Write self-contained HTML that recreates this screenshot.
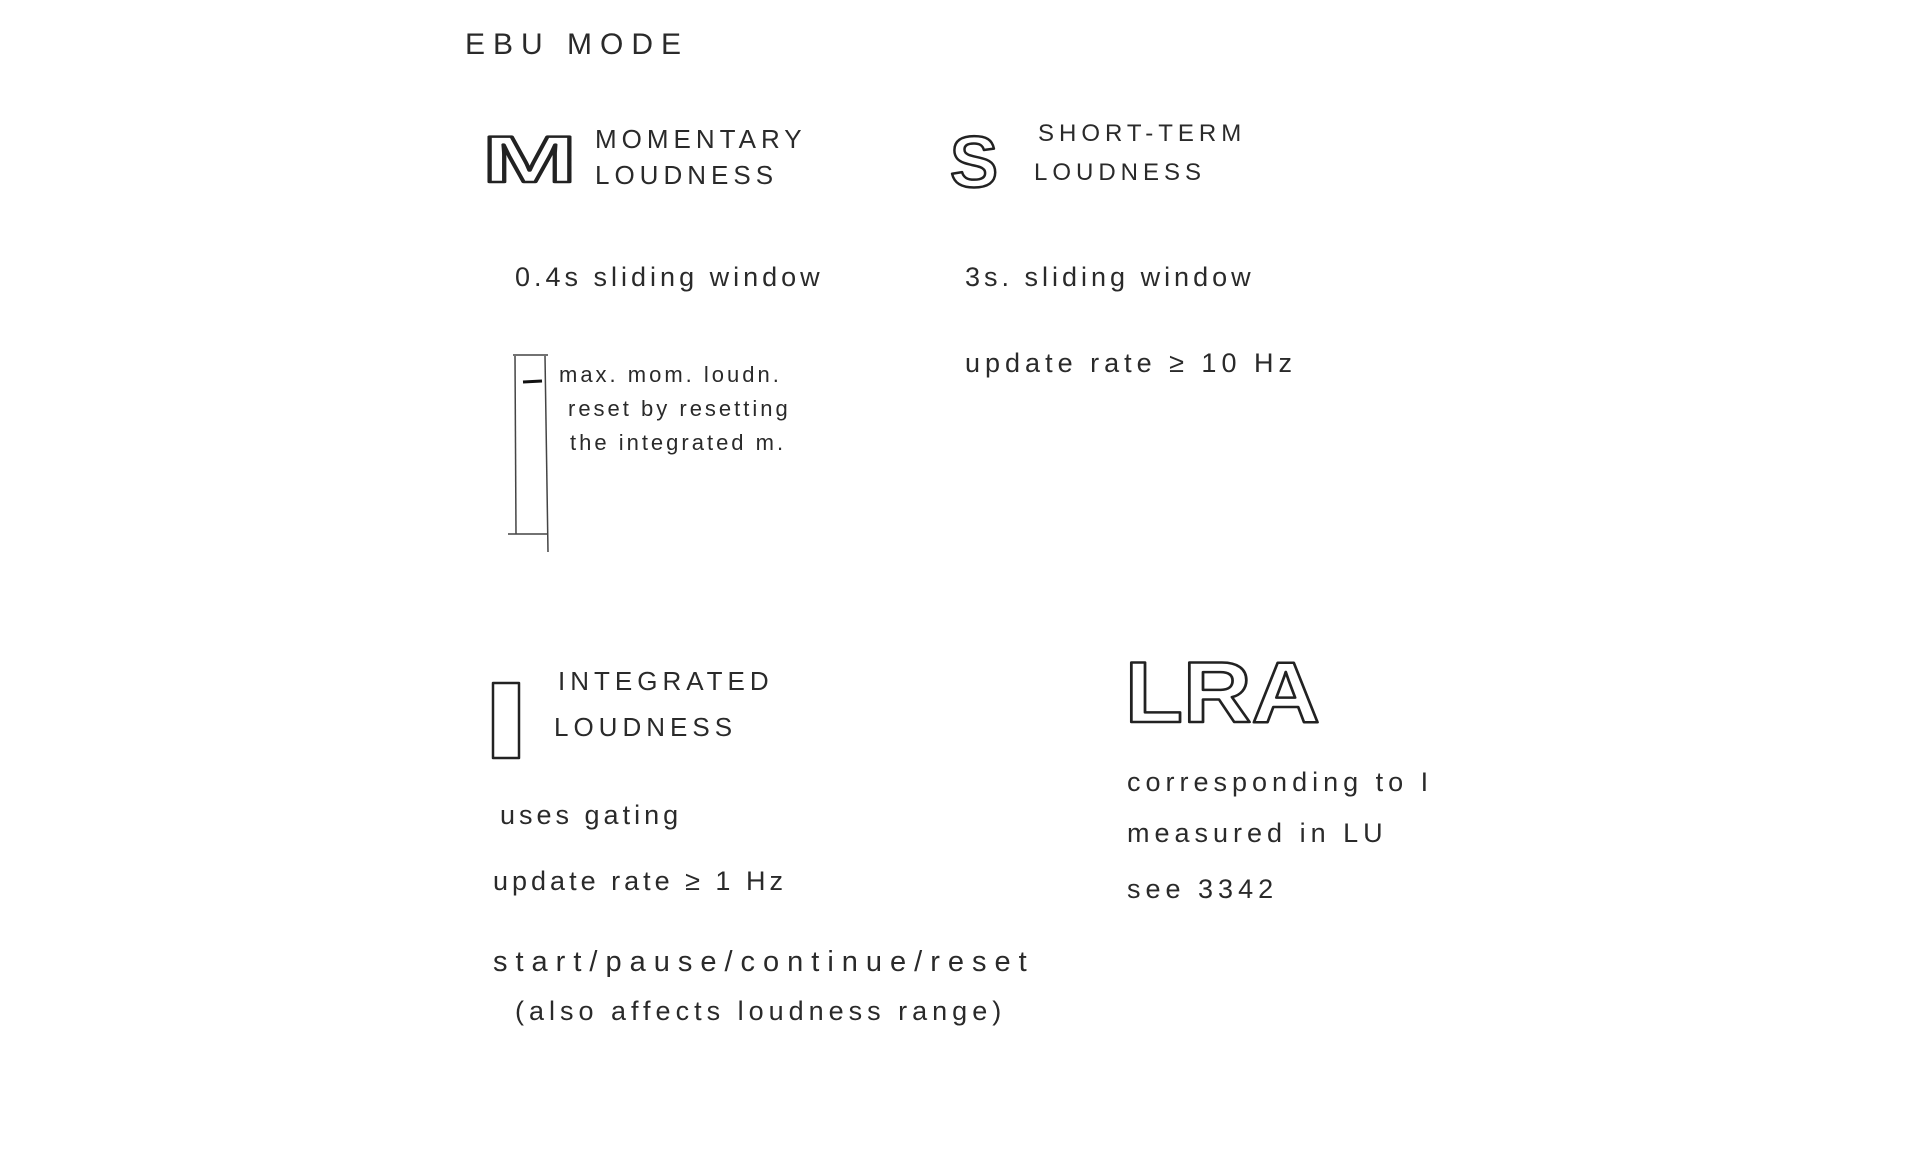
<!DOCTYPE html>
<html><head><meta charset="utf-8"><style>
html,body{margin:0;padding:0;background:#fff;}
body{width:1920px;height:1152px;position:relative;overflow:hidden;font-family:"Liberation Sans",sans-serif;color:#2a2a2a;}
.t{position:absolute;white-space:nowrap;line-height:1;}
.cap{font-size:26px;letter-spacing:5px;font-weight:normal;}
.hw{font-size:27px;letter-spacing:4px;}
.sm{font-size:22px;letter-spacing:3px;}
svg{position:absolute;left:0;top:0;}
</style></head><body>
<div class="t cap" style="left:465px;top:30px;font-size:30px;letter-spacing:8px;">EBU MODE</div>

<div class="t cap" style="left:595px;top:126px;">MOMENTARY</div>
<div class="t cap" style="left:595px;top:162px;">LOUDNESS</div>
<div class="t cap" style="left:1038px;top:122px;font-size:24px;">SHORT-TERM</div>
<div class="t cap" style="left:1034px;top:161px;font-size:24px;">LOUDNESS</div>

<div class="t hw" style="left:515px;top:264px;">0.4s sliding window</div>
<div class="t hw" style="left:965px;top:264px;">3s. sliding window</div>
<div class="t hw" style="left:965px;top:350px;letter-spacing:5px;">update rate ≥ 10 Hz</div>

<div class="t sm" style="left:559px;top:364px;">max. mom. loudn.</div>
<div class="t sm" style="left:568px;top:398px;">reset by resetting</div>
<div class="t sm" style="left:570px;top:432px;">the integrated m.</div>

<div class="t cap" style="left:558px;top:668px;">INTEGRATED</div>
<div class="t cap" style="left:554px;top:714px;">LOUDNESS</div>

<div class="t hw" style="left:500px;top:802px;">uses gating</div>
<div class="t hw" style="left:493px;top:868px;">update rate ≥ 1 Hz</div>
<div class="t hw" style="left:493px;top:948px;font-size:29px;letter-spacing:8px;">start/pause/continue/reset</div>
<div class="t hw" style="left:515px;top:998px;letter-spacing:5px;">(also affects loudness range)</div>

<div class="t hw" style="left:1127px;top:769px;letter-spacing:5px;">corresponding to I</div>
<div class="t hw" style="left:1127px;top:820px;letter-spacing:5px;">measured in LU</div>
<div class="t hw" style="left:1127px;top:876px;letter-spacing:5px;">see 3342</div>

<svg width="1920" height="1152" viewBox="0 0 1920 1152">
  <g fill="none" stroke="#222" stroke-width="3" stroke-linejoin="round">
    <text x="482" y="182" font-family="Liberation Sans" font-weight="bold" font-size="66" stroke="#222" stroke-width="2.5" fill="#fff" textLength="95" lengthAdjust="spacingAndGlyphs">M</text>
    <text x="950" y="187" font-family="Liberation Sans" font-weight="bold" font-size="72" stroke="#222" stroke-width="2.5" fill="#fff">S</text>
    <rect x="493" y="683" width="26" height="75" stroke-width="2.5"/>
    <text x="1125" y="722" font-family="Liberation Sans" font-weight="bold" font-size="86" stroke="#222" stroke-width="2.5" fill="#fff" textLength="195" lengthAdjust="spacingAndGlyphs">LRA</text>
  </g>
  <g fill="none" stroke="#444" stroke-width="1.5">
    <path d="M513 355 L548 355"/>
    <path d="M515 356 L516 534"/>
    <path d="M545 356 L548 552"/>
    <path d="M508 534 L547 534"/>
    <path d="M523 382 L542 381" stroke="#111" stroke-width="3"/>
  </g>
</svg>
</body></html>
